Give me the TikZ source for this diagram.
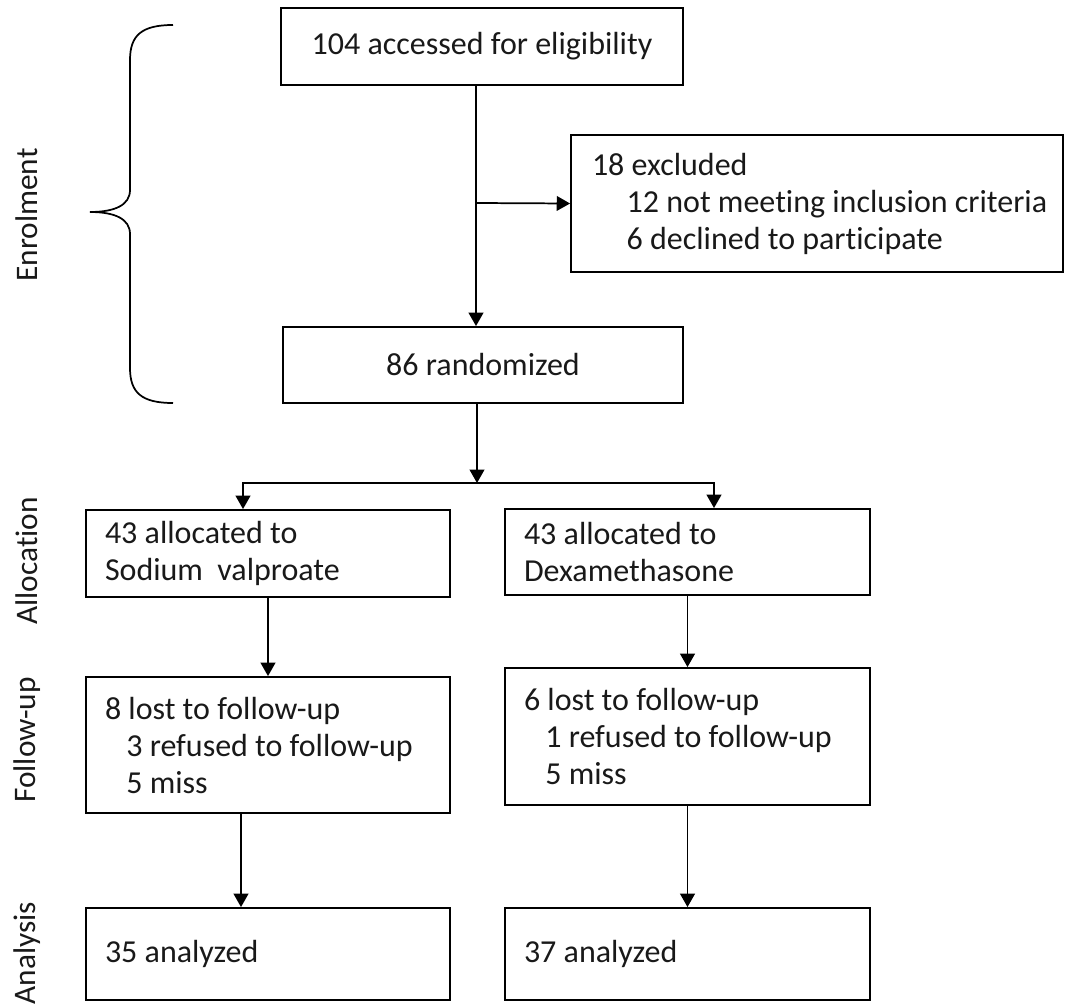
\documentclass[tikz,border=0pt]{standalone}
\usepackage{fontspec}
\setmainfont{Carlito}[Ligatures=NoCommon]
\usetikzlibrary{arrows.meta,calc}
\begin{document}
\begin{tikzpicture}[x=0.75pt,y=-0.75pt,
  box/.style={draw, line width=1.4pt, inner ysep=0pt, font=\fontsize{24}{27.75}\selectfont, text=black!90},
  lbox/.style={box, align=flush left, inner xsep=14.5pt},
  cbox/.style={box, align=center, inner xsep=0pt},
  arr/.style={line width=1.3pt, -{Triangle[length=10pt,width=11pt]}},
  stage/.style={rotate=90, font=\fontsize{23.5}{26}\selectfont, text=black!90}
]
\useasboundingbox (0,0) rectangle (1066,1006);

% boxes
\node[cbox, minimum width=301.5pt, minimum height=57.75pt] (elig) at (482,46.5) {104 accessed for eligibility};
\node[cbox, minimum width=300pt, minimum height=57pt] (rand) at (483,365) {86 randomized};
\node[lbox, inner xsep=15.75pt, text width=337.5pt, minimum height=102.75pt] (excl) at (817,203.5)
  {18 excluded\\\mbox{\hspace*{26pt}12 not meeting inclusion criteria}\\\mbox{\hspace*{26pt}6 declined to participate}};
\node[lbox, text width=244.5pt, minimum height=65.25pt] (allocL) at (268,553.5)
  {43 allocated to\\Sodium\hspace{0.45em}valproate};
\node[lbox, text width=245.25pt, minimum height=64.5pt] (allocR) at (687.5,552)
  {43 allocated to\\Dexamethasone};
\node[lbox, text width=244.5pt, minimum height=102pt] (fuL) at (268,745)
  {8 lost to follow-up\\\mbox{\hspace*{16pt}3 refused to follow-up}\\\hspace*{16pt}5 miss};
\node[lbox, text width=245.25pt, minimum height=102.75pt] (fuR) at (687.5,736.5)
  {6 lost to follow-up\\\mbox{\hspace*{16pt}1 refused to follow-up}\\\hspace*{16pt}5 miss};
\node[lbox, text width=244.5pt, minimum height=69pt] (anL) at (268,954) {35 analyzed};
\node[lbox, text width=245.25pt, minimum height=69pt] (anR) at (687.5,954) {37 analyzed};

% stage labels
\node[stage] (lEnrol) at (27,215) {Enrolment};
\node[stage] (lAlloc) at (27,561) {Allocation};
\node[stage] (lFollow) at (27,740) {Follow-up};
\node[stage] (lAnal) at (27,953) {Analysis};

% brace
\draw[line width=1.3pt] (173,25) .. controls (142,25) and (130,35) .. (130,60) -- (130,190)
  .. controls (130,205) and (115,212) .. (90,212)
  .. controls (115,212) and (130,219) .. (130,234) -- (130,368)
  .. controls (130,393) and (142,403) .. (173,403);

% connectors
\coordinate (spine) at (476,203);
\draw[arr] (elig.south -| spine) -- (rand.north -| spine);
\draw[arr] (spine) -- (excl.west);
\coordinate (split) at (477,483);
\draw[arr] (rand.south -| split) -- (split);
\draw[arr] (split) -| ($(allocL.north)+(-25,0)$);
\draw[arr] (split) -| ($(allocR.north)+(26.5,0)$);
\draw[arr] (allocL.south) -- (fuL.north);
\draw[arr] (allocR.south) -- (fuR.north);
\draw[arr] ($(fuL.south)+(-27,0)$) -- ($(anL.north)+(-27,0)$);
\draw[arr] (fuR.south) -- (anR.north);
\end{tikzpicture}
\end{document}
